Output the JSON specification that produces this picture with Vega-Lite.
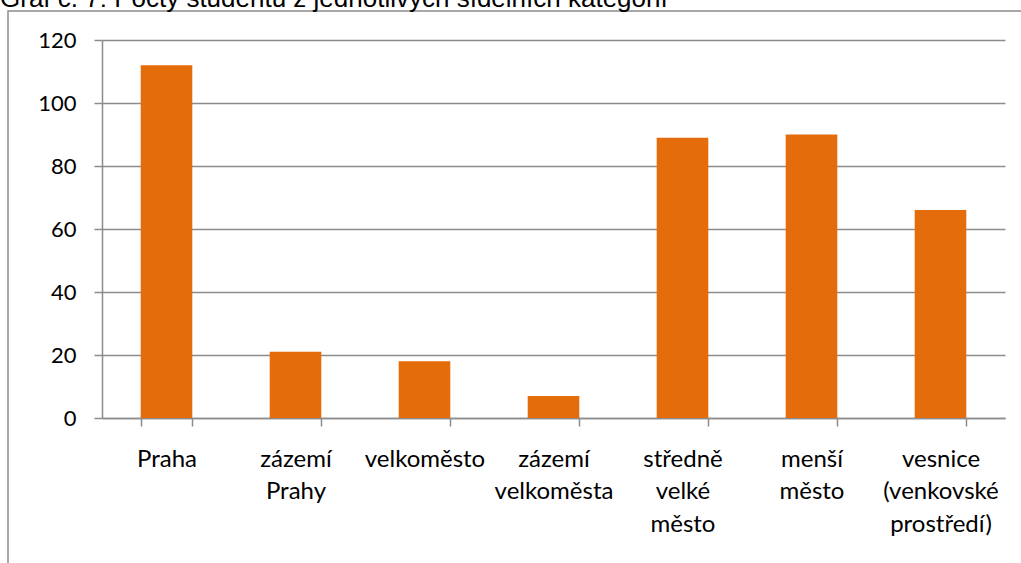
{
  "$schema": "https://vega.github.io/schema/vega-lite/v6.json",
  "autosize": "none",
  "width": 1013,
  "height": 552,
  "padding": {"left": 8, "top": 11, "right": 0, "bottom": 0},
  "background": "white",
  "title": {
    "text": "Graf č. 7: Počty studentů z jednotlivých sídelních kategorií",
    "anchor": "start",
    "frame": "group",
    "font": "Liberation Sans",
    "fontSize": 26,
    "fontWeight": "normal",
    "color": "black",
    "baseline": "alphabetic",
    "offset": 0,
    "dy": 22,
    "dx": -8
  },
  "data": {
    "values": [
      {"kategorie": "Praha", "pocet": 112},
      {"kategorie": "zázemí Prahy", "pocet": 21},
      {"kategorie": "velkoměsto", "pocet": 18},
      {"kategorie": "zázemí velkoměsta", "pocet": 7},
      {"kategorie": "středně velké město", "pocet": 89},
      {"kategorie": "menší město", "pocet": 90},
      {"kategorie": "vesnice (venkovské prostředí)", "pocet": 66}
    ]
  },
  "mark": {"type": "bar", "color": "#E46C0A"},
  "encoding": {
    "x": {
      "field": "kategorie",
      "type": "nominal",
      "sort": null,
      "scale": {"range": [94, 997], "paddingInner": 0.6, "paddingOuter": 0.3},
      "axis": {
        "title": null,
        "offset": -145,
        "labelExpr": "isValid(datum.value) ? split(datum.value, ' ') : ''",
        "labelAngle": 0,
        "labelFont": "Lato",
        "labelFontSize": 24,
        "labelColor": "black",
        "labelLineHeight": 32.5,
        "labelPadding": 21,
        "labelOverlap": false,
        "labelFlush": false,
        "labelLimit": 0,
        "tickBand": "extent",
        "tickSize": 8,
        "tickColor": "#8c8c8c",
        "domainColor": "#8c8c8c",
        "domainWidth": 1.5,
        "tickWidth": 1.5,
        "grid": false
      }
    },
    "y": {
      "field": "pocet",
      "type": "quantitative",
      "scale": {"domain": [0, 120], "range": [407, 29], "nice": false},
      "axis": {
        "title": null,
        "offset": -94,
        "values": [0, 20, 40, 60, 80, 100, 120],
        "labelFont": "Lato",
        "labelFontSize": 22,
        "labelColor": "black",
        "labelPadding": 18,
        "tickSize": 8,
        "tickColor": "#8c8c8c",
        "domainColor": "#8c8c8c",
        "domainWidth": 1.5,
        "tickWidth": 1.5,
        "grid": true,
        "gridColor": "#8c8c8c",
        "gridWidth": 1.5
      }
    }
  },
  "config": {
    "view": {"stroke": "#8c8c8c", "strokeWidth": 1.5, "strokeDash": [1013, 1565, 552]}
  }
}
